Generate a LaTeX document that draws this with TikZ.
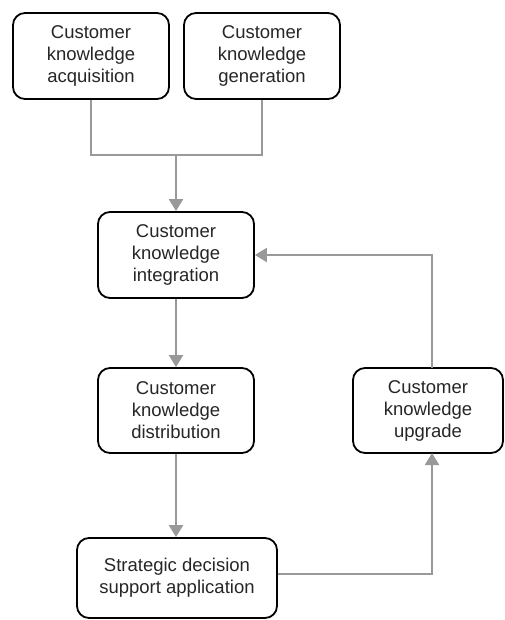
\documentclass[tikz,border=0pt]{standalone}
\usepackage{fontspec}
\setmainfont{Liberation Sans}
\usetikzlibrary{arrows.meta}
\definecolor{conn}{HTML}{999999}
\begin{document}
\begin{tikzpicture}[x=1pt,y=-1pt,
  box/.style={draw=black, line width=1.8pt, rounded corners=12pt, inner sep=0pt,
    align=center, font=\fontsize{18.5}{22}\selectfont, text=black!85},
  gline/.style={draw=conn, line width=2.2pt},
  garrow/.style={gline, -{Triangle[width=14pt,length=12pt]}}]
\useasboundingbox (0,0) rectangle (504,620);
\node[box, minimum width=156pt, minimum height=86pt] (acq) at (91,56) {Customer\\knowledge\\acquisition};
\node[box, minimum width=156pt, minimum height=86pt] (gen) at (262,56) {Customer\\knowledge\\generation};
\node[box, minimum width=156pt, minimum height=86pt] (int) at (176,255) {Customer\\knowledge\\integration};
\node[box, minimum width=156pt, minimum height=85pt] (dist) at (176,410.5) {Customer\\knowledge\\distribution};
\node[box, minimum width=150pt, minimum height=85pt] (upg) at (428,410.5) {Customer\\knowledge\\upgrade};
\node[box, minimum width=200pt, minimum height=80pt] (strat) at (177,578) {Strategic decision\\support application};
\coordinate (j) at (176,155);
\coordinate (ub) at (432,453);
\coordinate (ut) at (432,368);
\draw[gline] (acq.south) |- (j);
\draw[gline] (gen.south) |- (j);
\draw[garrow] (j) -- (int.north);
\draw[garrow] (int.south) -- (dist.north);
\draw[garrow] (dist.south) -- (dist.south |- strat.north);
\draw[garrow] ([yshift=4pt]strat.east) -| (ub);
\draw[garrow] (ut) |- (int.east);
\end{tikzpicture}
\end{document}
